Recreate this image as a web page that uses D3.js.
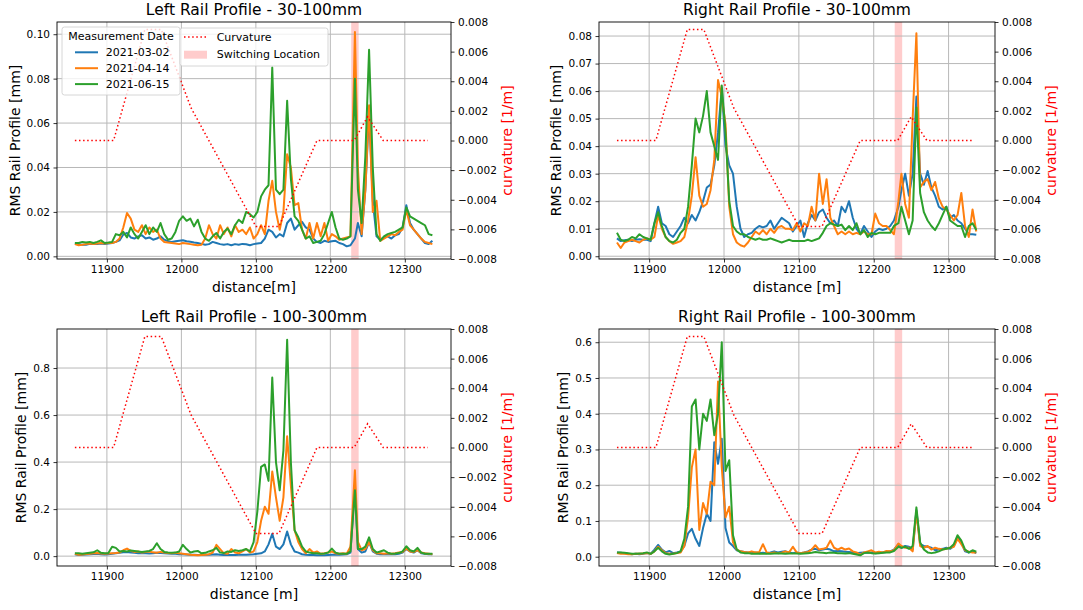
<!DOCTYPE html>
<html>
<head>
<meta charset="utf-8">
<script src="https://cdn.jsdelivr.net/npm/d3@7"></script>
<style>
  body { margin: 0; background: #fff; }
  svg { font-family: "DejaVu Sans", sans-serif; }
</style>
</head>
<body>
<svg id="chart" width="1083" height="610"></svg>
<script>
// sampling positions along the track [m]
const distance = [
  11857, 11862, 11867, 11872, 11877, 11882, 11887, 11892, 11897, 11902,
  11907, 11912, 11917, 11922, 11927, 11932, 11937, 11942, 11947, 11952,
  11957, 11962, 11967, 11972, 11977, 11982, 11987, 11992, 11997, 12002,
  12007, 12012, 12017, 12022, 12027, 12032, 12037, 12042, 12047, 12052,
  12057, 12062, 12067, 12072, 12077, 12082, 12087, 12092, 12097, 12102,
  12107, 12112, 12117, 12122, 12127, 12132, 12137, 12142, 12147, 12152,
  12157, 12162, 12167, 12172, 12177, 12182, 12187, 12192, 12197, 12202,
  12207, 12212, 12217, 12222, 12227, 12233, 12237, 12242, 12247, 12252,
  12257, 12262, 12267, 12272, 12277, 12282, 12287, 12292, 12297, 12302,
  12307, 12312, 12317, 12322, 12327, 12332, 12337
];

const dates = ["2021-03-02", "2021-04-14", "2021-06-15"];

// curvature [1/m]
const curvDistance = [11857, 11909, 11951, 11973, 12013, 12100, 12131, 12182, 12232, 12250, 12271, 12331];
const curvValue = [0, 0, 0.0075, 0.0075, 0.0022, -0.0058, -0.0058, 0, 0, 0.0016, 0, 0];

const switchingLocation = [12228, 12238];

// Left rail 30-100mm
const left30_0302 = [
  0.0055, 0.0055, 0.0052, 0.0052, 0.0056, 0.0055, 0.0056, 0.0058, 0.0056, 0.0058, 0.0060,
  0.0065, 0.0072, 0.0098, 0.0105, 0.0085, 0.0080, 0.0090, 0.0095, 0.0080, 0.0085,
  0.0075, 0.0080, 0.0090, 0.0075, 0.0068, 0.0065, 0.0068, 0.0070, 0.0072, 0.0068,
  0.0066, 0.0062, 0.0060, 0.0056, 0.0052, 0.0055, 0.0065, 0.0060, 0.0055, 0.0052,
  0.0055, 0.0050, 0.0055, 0.0052, 0.0056, 0.0054, 0.0050, 0.0055, 0.0058, 0.0060,
  0.0080, 0.0120, 0.0110, 0.0085, 0.0100, 0.0090, 0.0150, 0.0170, 0.0120, 0.0140,
  0.0155, 0.0130, 0.0120, 0.0080, 0.0065, 0.0060, 0.0070, 0.0065, 0.0068, 0.0070,
  0.0060, 0.0055, 0.0045, 0.0050, 0.0080, 0.0150, 0.0090, 0.0300, 0.0650, 0.0250,
  0.0090, 0.0075, 0.0085, 0.0090, 0.0080, 0.0095, 0.0100, 0.0130, 0.0230, 0.0150,
  0.0120, 0.0100, 0.0080, 0.0060, 0.0055, 0.0070
];
const left30_0414 = [
  0.0055, 0.0050, 0.0052, 0.0055, 0.0058, 0.0055, 0.0058, 0.0060, 0.0058, 0.0060, 0.0060,
  0.0065, 0.0080, 0.0130, 0.0195, 0.0170, 0.0120, 0.0110, 0.0140, 0.0100, 0.0130,
  0.0110, 0.0120, 0.0080, 0.0065, 0.0062, 0.0060, 0.0058, 0.0055, 0.0060, 0.0058,
  0.0055, 0.0052, 0.0050, 0.0052, 0.0080, 0.0140, 0.0100, 0.0080, 0.0140, 0.0100,
  0.0130, 0.0090, 0.0140, 0.0110, 0.0120, 0.0100, 0.0130, 0.0080, 0.0100, 0.0140,
  0.0100, 0.0250, 0.0340, 0.0200, 0.0120, 0.0200, 0.0460, 0.0400, 0.0230, 0.0240,
  0.0120, 0.0080, 0.0150, 0.0080, 0.0150, 0.0090, 0.0150, 0.0070, 0.0100, 0.0090,
  0.0075, 0.0080, 0.0085, 0.0090, 0.1010, 0.0400, 0.0100, 0.0300, 0.0680, 0.0200,
  0.0250, 0.0070, 0.0080, 0.0090, 0.0100, 0.0095, 0.0110, 0.0120, 0.0210, 0.0140,
  0.0120, 0.0100, 0.0080, 0.0065, 0.0060, 0.0055
];
const left30_0615 = [
  0.0060, 0.0060, 0.0065, 0.0062, 0.0065, 0.0060, 0.0065, 0.0072, 0.0060, 0.0062, 0.0065,
  0.0100, 0.0095, 0.0110, 0.0085, 0.0130, 0.0100, 0.0080, 0.0110, 0.0140, 0.0100,
  0.0130, 0.0110, 0.0150, 0.0100, 0.0075, 0.0080, 0.0110, 0.0160, 0.0180, 0.0160,
  0.0170, 0.0135, 0.0165, 0.0110, 0.0080, 0.0070, 0.0090, 0.0105, 0.0080, 0.0110,
  0.0125, 0.0100, 0.0140, 0.0165, 0.0150, 0.0200, 0.0190, 0.0175, 0.0200, 0.0270,
  0.0300, 0.0320, 0.0850, 0.0300, 0.0280, 0.0300, 0.0700, 0.0350, 0.0180, 0.0160,
  0.0120, 0.0080, 0.0090, 0.0060, 0.0065, 0.0070, 0.0100, 0.0150, 0.0200, 0.0130,
  0.0080, 0.0075, 0.0080, 0.0090, 0.0800, 0.0300, 0.0150, 0.0450, 0.0930, 0.0400,
  0.0100, 0.0070, 0.0090, 0.0100, 0.0105, 0.0110, 0.0120, 0.0130, 0.0220, 0.0180,
  0.0170, 0.0160, 0.0150, 0.0140, 0.0100, 0.0095
];

// Right rail 30-100mm
const right30_0302 = [
  0.0065, 0.0055, 0.0058, 0.0060, 0.0055, 0.0060, 0.0062, 0.0060, 0.0060, 0.0055, 0.0120,
  0.0180, 0.0120, 0.0110, 0.0080, 0.0070, 0.0090, 0.0110, 0.0140, 0.0120, 0.0150,
  0.0130, 0.0160, 0.0200, 0.0250, 0.0260, 0.0330, 0.0450, 0.0610, 0.0400, 0.0330,
  0.0300, 0.0180, 0.0100, 0.0070, 0.0080, 0.0085, 0.0100, 0.0110, 0.0105, 0.0110,
  0.0130, 0.0100, 0.0120, 0.0140, 0.0130, 0.0120, 0.0090, 0.0110, 0.0130, 0.0070,
  0.0120, 0.0150, 0.0130, 0.0160, 0.0170, 0.0140, 0.0120, 0.0130, 0.0110, 0.0180,
  0.0160, 0.0200, 0.0140, 0.0100, 0.0080, 0.0110, 0.0090, 0.0070, 0.0090, 0.0100,
  0.0095, 0.0100, 0.0110, 0.0130, 0.0180, 0.0240, 0.0300, 0.0220, 0.0300, 0.0580,
  0.0300, 0.0260, 0.0310, 0.0250, 0.0220, 0.0180, 0.0170, 0.0180, 0.0140, 0.0150,
  0.0130, 0.0120, 0.0100, 0.0080, 0.0080, 0.0078
];
const right30_0414 = [
  0.0050, 0.0030, 0.0050, 0.0055, 0.0060, 0.0055, 0.0050, 0.0060, 0.0065, 0.0060, 0.0070,
  0.0150, 0.0100, 0.0070, 0.0055, 0.0045, 0.0050, 0.0055, 0.0070, 0.0130, 0.0220,
  0.0360, 0.0220, 0.0180, 0.0190, 0.0240, 0.0350, 0.0640, 0.0580, 0.0480, 0.0180,
  0.0080, 0.0050, 0.0040, 0.0035, 0.0050, 0.0070, 0.0090, 0.0080, 0.0095, 0.0080,
  0.0100, 0.0085, 0.0105, 0.0110, 0.0100, 0.0100, 0.0095, 0.0120, 0.0090, 0.0120,
  0.0110, 0.0180, 0.0130, 0.0300, 0.0190, 0.0280, 0.0140, 0.0110, 0.0080, 0.0090,
  0.0080, 0.0090, 0.0080, 0.0085, 0.0080, 0.0090, 0.0080, 0.0080, 0.0155, 0.0120,
  0.0110, 0.0110, 0.0095, 0.0080, 0.0200, 0.0300, 0.0190, 0.0140, 0.0500, 0.0810,
  0.0250, 0.0270, 0.0280, 0.0240, 0.0270, 0.0210, 0.0180, 0.0170, 0.0150, 0.0130,
  0.0150, 0.0230, 0.0110, 0.0070, 0.0170, 0.0090
];
const right30_0615 = [
  0.0085, 0.0060, 0.0055, 0.0060, 0.0070, 0.0065, 0.0080, 0.0070, 0.0065, 0.0060, 0.0120,
  0.0160, 0.0110, 0.0070, 0.0055, 0.0050, 0.0060, 0.0085, 0.0100, 0.0180, 0.0330,
  0.0500, 0.0450, 0.0510, 0.0600, 0.0450, 0.0400, 0.0350, 0.0620, 0.0450, 0.0200,
  0.0110, 0.0090, 0.0080, 0.0080, 0.0070, 0.0065, 0.0060, 0.0065, 0.0060, 0.0060,
  0.0065, 0.0060, 0.0055, 0.0050, 0.0055, 0.0060, 0.0055, 0.0055, 0.0055, 0.0055,
  0.0060, 0.0055, 0.0060, 0.0065, 0.0085, 0.0110, 0.0120, 0.0115, 0.0110, 0.0115,
  0.0095, 0.0110, 0.0095, 0.0120, 0.0080, 0.0095, 0.0070, 0.0085, 0.0080, 0.0085,
  0.0085, 0.0085, 0.0085, 0.0110, 0.0120, 0.0180, 0.0130, 0.0080, 0.0130, 0.0540,
  0.0230, 0.0160, 0.0130, 0.0110, 0.0095, 0.0120, 0.0150, 0.0180, 0.0130, 0.0120,
  0.0110, 0.0110, 0.0070, 0.0110, 0.0120, 0.0095
];

// Left rail 100-300mm
const left100_0302 = [
  0.008, 0.005, 0.006, 0.007, 0.008, 0.009, 0.010, 0.008, 0.007, 0.008,
  0.010, 0.012, 0.014, 0.016, 0.018, 0.015, 0.014, 0.012, 0.013, 0.012,
  0.011, 0.012, 0.014, 0.013, 0.012, 0.011, 0.010, 0.010, 0.008, 0.008,
  0.007, 0.006, 0.006, 0.005, 0.005, 0.006, 0.006, 0.007, 0.008, 0.006,
  0.005, 0.006, 0.005, 0.005, 0.006, 0.006,
  0.006, 0.007, 0.008, 0.010, 0.012, 0.020, 0.050, 0.095, 0.040, 0.030,
  0.050, 0.105, 0.050, 0.020, 0.015, 0.008, 0.006, 0.005, 0.005, 0.004,
  0.004, 0.004, 0.005, 0.006, 0.006, 0.006, 0.007, 0.008, 0.015, 0.300,
  0.030, 0.015, 0.020, 0.060, 0.020, 0.010, 0.008, 0.008, 0.008, 0.008,
  0.008, 0.010, 0.015, 0.030, 0.020, 0.015, 0.025, 0.012, 0.010, 0.008,
  0.008
];
const left100_0414 = [
  0.010, 0.006, 0.007, 0.009, 0.010, 0.012, 0.013, 0.011, 0.010, 0.011,
  0.012, 0.013, 0.015, 0.025, 0.032, 0.022, 0.018, 0.020, 0.015, 0.018,
  0.020, 0.016, 0.014, 0.018, 0.015, 0.013, 0.012, 0.014, 0.012, 0.010,
  0.008, 0.006, 0.005, 0.004, 0.005, 0.006, 0.008, 0.015, 0.048, 0.030,
  0.012, 0.010, 0.030, 0.015, 0.012, 0.020,
  0.030, 0.015, 0.020, 0.060, 0.150, 0.210, 0.180, 0.360, 0.250, 0.150,
  0.250, 0.510, 0.300, 0.110, 0.060, 0.030, 0.012, 0.030, 0.015, 0.020,
  0.010, 0.012, 0.015, 0.020, 0.012, 0.010, 0.012, 0.010, 0.040, 0.365,
  0.060, 0.025, 0.030, 0.060, 0.025, 0.012, 0.012, 0.010, 0.012, 0.010,
  0.012, 0.015, 0.018, 0.032, 0.020, 0.018, 0.025, 0.015, 0.012, 0.010,
  0.008
];
const left100_0615 = [
  0.012, 0.012, 0.010, 0.012, 0.014, 0.016, 0.025, 0.014, 0.012, 0.013,
  0.040, 0.035, 0.020, 0.022, 0.020, 0.024, 0.022, 0.020, 0.018, 0.020,
  0.022, 0.030, 0.055, 0.030, 0.018, 0.015, 0.014, 0.015, 0.020, 0.048,
  0.030, 0.015, 0.020, 0.022, 0.012, 0.014, 0.020, 0.025, 0.035, 0.015,
  0.013, 0.020, 0.018, 0.025, 0.022, 0.025,
  0.030, 0.020, 0.060, 0.190, 0.380, 0.390, 0.320, 0.760, 0.400, 0.280,
  0.450, 0.920, 0.400, 0.110, 0.080, 0.040, 0.020, 0.015, 0.012, 0.012,
  0.010, 0.011, 0.015, 0.032, 0.015, 0.010, 0.010, 0.010, 0.020, 0.280,
  0.030, 0.030, 0.040, 0.080, 0.030, 0.015, 0.020, 0.025, 0.015, 0.010,
  0.011, 0.013, 0.020, 0.042, 0.025, 0.020, 0.035, 0.015, 0.010, 0.010,
  0.010
];

// Right rail 100-300mm
const right100_0302 = [
  0.012, 0.011, 0.010, 0.008, 0.007, 0.008, 0.007, 0.008, 0.010, 0.008,
  0.020, 0.033, 0.020, 0.012, 0.016, 0.010, 0.012, 0.015, 0.030, 0.065,
  0.078, 0.050, 0.030, 0.080, 0.120, 0.100, 0.320, 0.260, 0.330, 0.080,
  0.040, 0.030, 0.018, 0.015, 0.013, 0.012, 0.010, 0.012, 0.010, 0.011,
  0.010, 0.012, 0.015, 0.012, 0.014, 0.015,
  0.012, 0.010, 0.012, 0.010, 0.012, 0.015, 0.020, 0.022, 0.018, 0.020,
  0.022, 0.020, 0.015, 0.016, 0.015, 0.014, 0.013, 0.012, 0.010, 0.011,
  0.012, 0.011, 0.012, 0.010, 0.011, 0.012, 0.013, 0.015, 0.020, 0.035,
  0.025, 0.030, 0.028, 0.020, 0.130, 0.035, 0.030, 0.028, 0.025, 0.018,
  0.020, 0.022, 0.025, 0.022, 0.030, 0.055, 0.040, 0.015, 0.012, 0.015,
  0.010
];
const right100_0414 = [
  0.010, 0.008, 0.008, 0.007, 0.007, 0.008, 0.008, 0.009, 0.010, 0.008,
  0.015, 0.028, 0.018, 0.010, 0.008, 0.008, 0.010, 0.012, 0.030, 0.110,
  0.250, 0.300, 0.075, 0.150, 0.120, 0.210, 0.200, 0.490, 0.250, 0.110,
  0.140, 0.040, 0.020, 0.015, 0.013, 0.012, 0.015, 0.012, 0.013, 0.035,
  0.012, 0.010, 0.012, 0.010, 0.011, 0.015,
  0.012, 0.028, 0.012, 0.010, 0.012, 0.013, 0.020, 0.032, 0.020, 0.022,
  0.025, 0.045, 0.025, 0.020, 0.025, 0.020, 0.023, 0.015, 0.012, 0.005,
  0.012, 0.015, 0.018, 0.012, 0.014, 0.012, 0.016, 0.015, 0.018, 0.037,
  0.030, 0.025, 0.025, 0.015, 0.125, 0.030, 0.025, 0.030, 0.020, 0.025,
  0.022, 0.020, 0.022, 0.025, 0.028, 0.050, 0.035, 0.018, 0.014, 0.012,
  0.012
];
const right100_0615 = [
  0.012, 0.012, 0.011, 0.010, 0.008, 0.008, 0.009, 0.010, 0.012, 0.008,
  0.015, 0.025, 0.015, 0.008, 0.006, 0.008, 0.010, 0.015, 0.050, 0.140,
  0.420, 0.440, 0.300, 0.400, 0.380, 0.440, 0.340, 0.400, 0.600, 0.240,
  0.270, 0.060, 0.020, 0.012, 0.010, 0.010, 0.008, 0.008, 0.009, 0.008,
  0.008, 0.008, 0.009, 0.010, 0.009, 0.008,
  0.009, 0.009, 0.009, 0.008, 0.009, 0.010, 0.011, 0.013, 0.012, 0.011,
  0.010, 0.012, 0.011, 0.010, 0.010, 0.009, 0.010, 0.008, 0.006, 0.004,
  0.010, 0.012, 0.010, 0.009, 0.010, 0.011, 0.012, 0.012, 0.016, 0.028,
  0.025, 0.028, 0.022, 0.030, 0.138, 0.040, 0.020, 0.012, 0.010, 0.012,
  0.015, 0.020, 0.022, 0.025, 0.035, 0.060, 0.045, 0.020, 0.012, 0.018,
  0.014
];

const xTicks = [11900, 12000, 12100, 12200, 12300];
const curvTicks = [-0.008, -0.006, -0.004, -0.002, 0, 0.002, 0.004, 0.006, 0.008];

const colors = ["#1f77b4", "#ff7f0e", "#2ca02c"];

const svg = d3.select("#chart");

function createPanel(cfg) {
  const width = cfg.width;
  const height = cfg.height;

  const g = svg.append("g").attr("transform", `translate(${cfg.left},${cfg.top})`);

  // Scales setup
  const xscale = d3.scaleLinear().domain([11833, 12362]).range([0, width]);
  const yscale = d3.scaleLinear().domain(cfg.yDomain).range([height, 0]);
  const y2scale = d3.scaleLinear().domain([-0.008, 0.008]).range([height, 0]);

  // switching location band
  g.append("rect")
    .attr("x", xscale(switchingLocation[0]))
    .attr("width", xscale(switchingLocation[1]) - xscale(switchingLocation[0]))
    .attr("y", 0)
    .attr("height", height)
    .attr("fill", "rgba(255,0,0,0.2)");

  // grid
  g.append("g").selectAll("line").data(xTicks).join("line")
    .attr("x1", (d) => xscale(d)).attr("x2", (d) => xscale(d))
    .attr("y1", 0).attr("y2", height)
    .attr("stroke", "#b8b8b8").attr("stroke-width", 1);
  g.append("g").selectAll("line").data(cfg.yTicks).join("line")
    .attr("y1", (d) => yscale(d)).attr("y2", (d) => yscale(d))
    .attr("x1", 0).attr("x2", width)
    .attr("stroke", "#b8b8b8").attr("stroke-width", 1);

  // measurement lines
  const line = d3.line()
    .x((d, i) => xscale(distance[i]))
    .y((d) => yscale(d));
  g.append("g").selectAll("path").data(cfg.series).join("path")
    .attr("d", (d) => line(d))
    .attr("fill", "none")
    .attr("stroke", (d, i) => colors[i])
    .attr("stroke-width", 2)
    .attr("stroke-linejoin", "round");

  // curvature (twin axis)
  const curvLine = d3.line()
    .x((d) => xscale(d))
    .y((d, i) => y2scale(curvValue[i]));
  g.append("path")
    .attr("d", curvLine(curvDistance))
    .attr("fill", "none")
    .attr("stroke", "red")
    .attr("stroke-width", 1.5)
    .attr("stroke-dasharray", "1.5,2.6");

  // spines
  g.append("rect")
    .attr("width", width).attr("height", height)
    .attr("fill", "none").attr("stroke", "#000").attr("stroke-width", 0.9);

  // Axis setup
  const xaxis = d3.axisBottom(xscale).tickValues(xTicks).tickFormat(d3.format("d"))
    .tickSize(3.5).tickPadding(3.5).tickSizeOuter(0);
  const yaxis = d3.axisLeft(yscale).tickValues(cfg.yTicks).tickFormat(d3.format(cfg.yFormat))
    .tickSize(3.5).tickPadding(3.5).tickSizeOuter(0);
  const y2axis = d3.axisRight(y2scale).tickValues(curvTicks).tickFormat(d3.format(".3f"))
    .tickSize(3.5).tickPadding(3.5).tickSizeOuter(0);

  const g_x = g.append("g").attr("transform", `translate(0,${height})`).call(xaxis);
  const g_y = g.append("g").call(yaxis);
  const g_y2 = g.append("g").attr("transform", `translate(${width},0)`).call(y2axis);
  [g_x, g_y, g_y2].forEach((a) => {
    a.select(".domain").remove();
    a.selectAll("text").attr("font-size", 10.5).attr("fill", "#000")
      .attr("font-family", "DejaVu Sans, sans-serif");
    a.selectAll("line").attr("stroke", "#000").attr("stroke-width", 0.8);
  });

  // title and labels
  g.append("text")
    .attr("x", width / 2).attr("y", -7)
    .attr("text-anchor", "middle")
    .attr("font-size", 15.5)
    .text(cfg.title);
  g.append("text")
    .attr("x", width / 2).attr("y", height + 33)
    .attr("text-anchor", "middle")
    .attr("font-size", 14)
    .text(cfg.xlabel);
  g.append("text")
    .attr("transform", `translate(${cfg.ylabelX},${height / 2}) rotate(-90)`)
    .attr("text-anchor", "middle")
    .attr("dominant-baseline", "central")
    .attr("font-size", 14)
    .text("RMS Rail Profile [mm]");
  g.append("text")
    .attr("transform", `translate(${width + 56},${height / 2}) rotate(-90)`)
    .attr("text-anchor", "middle")
    .attr("dominant-baseline", "central")
    .attr("fill", "red")
    .attr("font-size", 14)
    .text("curvature [1/m]");

  return g;
}

const g_leftTop = createPanel({
  left: 57, top: 22, width: 394, height: 237,
  title: "Left Rail Profile - 30-100mm", xlabel: "distance[m]",
  yDomain: [-0.0012, 0.1055], yTicks: [0, 0.02, 0.04, 0.06, 0.08, 0.1], yFormat: ".2f",
  ylabelX: -42,
  series: [left30_0302, left30_0414, left30_0615],
});
createPanel({
  left: 599, top: 22, width: 396, height: 237,
  title: "Right Rail Profile - 30-100mm", xlabel: "distance [m]",
  yDomain: [-0.001, 0.0851], yTicks: [0, 0.01, 0.02, 0.03, 0.04, 0.05, 0.06, 0.07, 0.08], yFormat: ".2f",
  ylabelX: -43,
  series: [right30_0302, right30_0414, right30_0615],
});
createPanel({
  left: 57, top: 329, width: 394, height: 237,
  title: "Left Rail Profile - 100-300mm", xlabel: "distance [m]",
  yDomain: [-0.042, 0.966], yTicks: [0, 0.2, 0.4, 0.6, 0.8], yFormat: ".1f",
  ylabelX: -36,
  series: [left100_0302, left100_0414, left100_0615],
});
createPanel({
  left: 599, top: 329, width: 396, height: 237,
  title: "Right Rail Profile - 100-300mm", xlabel: "distance [m]",
  yDomain: [-0.026, 0.637], yTicks: [0, 0.1, 0.2, 0.3, 0.4, 0.5, 0.6], yFormat: ".1f",
  ylabelX: -36,
  series: [right100_0302, right100_0414, right100_0615],
});

// legends in the first panel
const leg1 = g_leftTop.append("g").attr("transform", "translate(5,5)");
leg1.append("rect")
  .attr("width", 118).attr("height", 68).attr("rx", 2.5)
  .attr("fill", "#fff").attr("fill-opacity", 0.8)
  .attr("stroke", "#cccccc").attr("stroke-width", 0.8);
leg1.append("text")
  .attr("x", 59).attr("y", 9).attr("dominant-baseline", "central")
  .attr("text-anchor", "middle").attr("font-size", 11)
  .text("Measurement Date");
const leg1Items = leg1.selectAll("g.item").data(dates).join("g")
  .attr("class", "item")
  .attr("transform", (d, i) => `translate(13,${25.3 + i * 15.9})`);
leg1Items.append("line")
  .attr("x1", 0).attr("x2", 23)
  .attr("stroke", (d, i) => colors[i]).attr("stroke-width", 2);
leg1Items.append("text")
  .attr("x", 30.7).attr("dominant-baseline", "central")
  .attr("font-size", 11)
  .text((d) => d);

const leg2 = g_leftTop.append("g").attr("transform", "translate(123,6)");
leg2.append("rect")
  .attr("width", 148).attr("height", 38).attr("rx", 2.5)
  .attr("fill", "#fff").attr("fill-opacity", 0.8)
  .attr("stroke", "#cccccc").attr("stroke-width", 0.8);
leg2.append("line")
  .attr("x1", 4).attr("x2", 27).attr("y1", 9).attr("y2", 9)
  .attr("stroke", "red").attr("stroke-width", 1.5).attr("stroke-dasharray", "1.5,2.6");
leg2.append("text")
  .attr("x", 36.7).attr("y", 9).attr("dominant-baseline", "central")
  .attr("font-size", 11).text("Curvature");
leg2.append("rect")
  .attr("x", 4).attr("y", 22.7).attr("width", 23).attr("height", 8)
  .attr("fill", "rgba(255,0,0,0.2)");
leg2.append("text")
  .attr("x", 36.7).attr("y", 26.7).attr("dominant-baseline", "central")
  .attr("font-size", 11).text("Switching Location");
</script>
</body>
</html>
